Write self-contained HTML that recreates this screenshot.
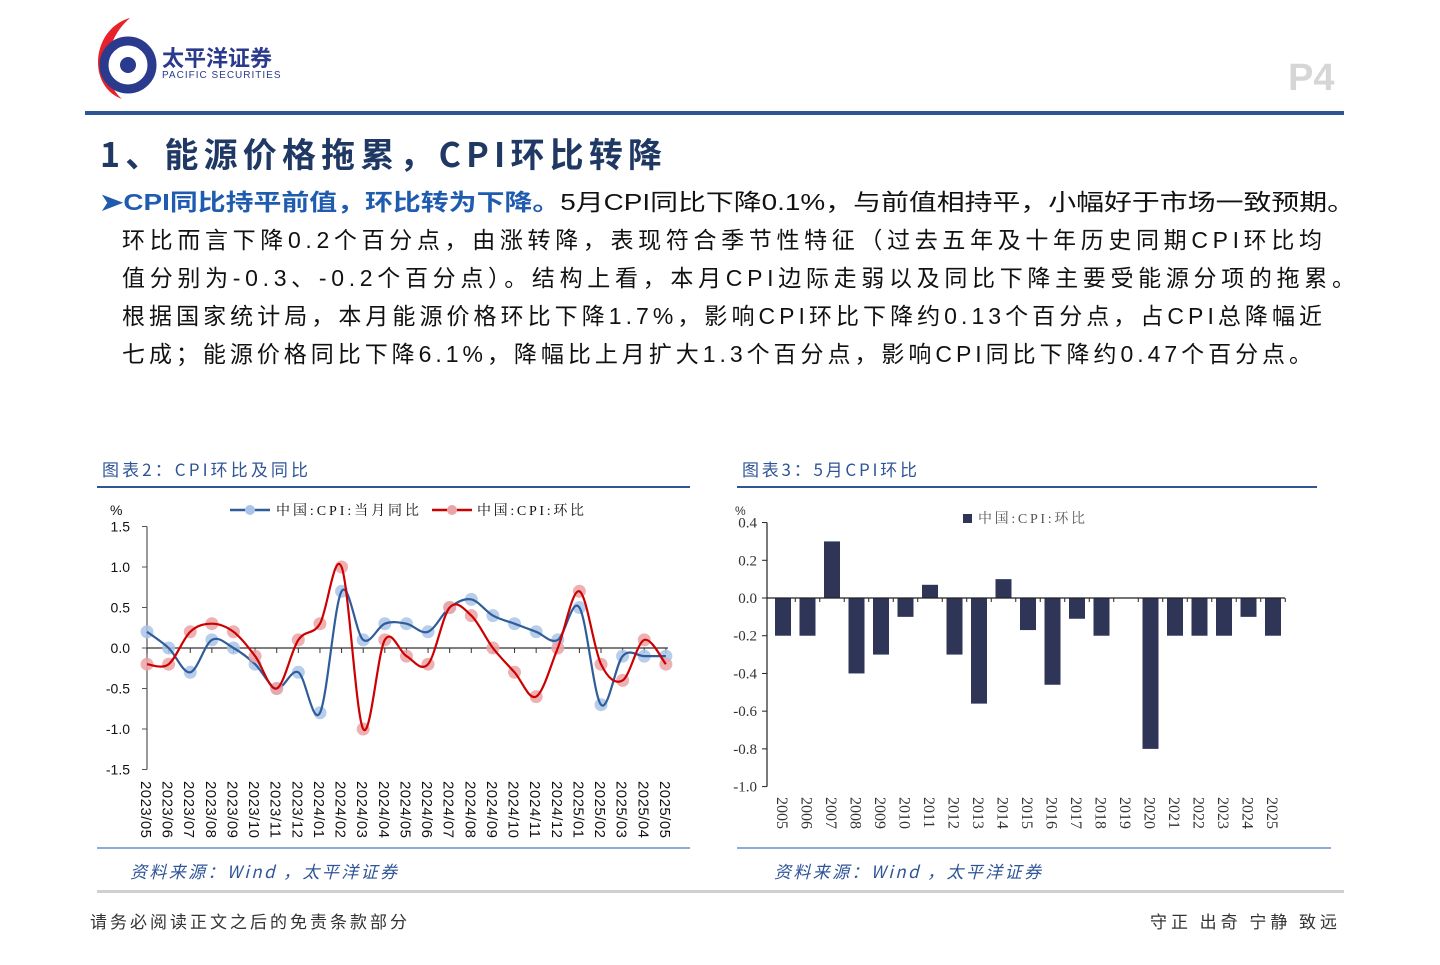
<!DOCTYPE html>
<html><head><meta charset="utf-8"><style>
html,body{margin:0;padding:0;background:#fff;width:1440px;height:965px;overflow:hidden}
svg{display:block}
text{font-family:"Liberation Sans","Noto Sans CJK SC",sans-serif}
.cjk{font-family:"Noto Sans CJK SC","WenQuanYi Zen Hei",sans-serif}
.ser{font-family:"Liberation Serif","Noto Serif CJK SC",serif}
</style></head><body>
<svg id="page" width="1440" height="965" viewBox="0 0 1440 965">
<g>
 <path d="M130 18 C92 28 86 86 122 99 C100 80 104 40 130 18Z" fill="#e8222a"/>
 <circle cx="128" cy="65" r="24" fill="none" stroke="#2a3a8c" stroke-width="9"/>
 <circle cx="128" cy="65" r="8" fill="#2a3a8c"/>
 <text x="162" y="66" font-size="22" font-weight="bold" fill="#2a3a8c" class="cjk">太平洋证券</text>
 <text x="162" y="78" font-size="10" fill="#2a3a8c" letter-spacing="1">PACIFIC SECURITIES</text>
</g>
<text x="1288" y="90" font-size="38" font-weight="bold" fill="#d6d6d6">P4</text>
<rect x="85" y="111" width="1259" height="4" fill="#2f5597"/>
<text x="100" y="167" font-size="34" font-weight="bold" fill="#1f3864" class="cjk" textLength="562">1、能源价格拖累，CPI环比转降</text>
<g class="cjk" font-size="23">
 <text x="100" y="210" textLength="1255" lengthAdjust="spacingAndGlyphs"><tspan fill="#1f5cb0" font-weight="bold">➤CPI同比持平前值，环比转为下降。</tspan><tspan fill="#111">5月CPI同比下降0.1%，与前值相持平，小幅好于市场一致预期。</tspan></text>
 <text x="122" y="248" fill="#111" textLength="1200">环比而言下降0.2个百分点，由涨转降，表现符合季节性特征（过去五年及十年历史同期CPI环比均</text>
 <text x="122" y="286" fill="#111" textLength="1233">值分别为-0.3、-0.2个百分点）。结构上看，本月CPI边际走弱以及同比下降主要受能源分项的拖累。</text>
 <text x="122" y="324" fill="#111" textLength="1200">根据国家统计局，本月能源价格环比下降1.7%，影响CPI环比下降约0.13个百分点，占CPI总降幅近</text>
 <text x="122" y="362" fill="#111" textLength="1190">七成；能源价格同比下降6.1%，降幅比上月扩大1.3个百分点，影响CPI同比下降约0.47个百分点。</text>
</g>
<text x="102" y="476" font-size="17" fill="#2f5597" class="cjk" textLength="206">图表2：CPI环比及同比</text>
<text x="742" y="476" font-size="17" fill="#2f5597" class="cjk" textLength="175">图表3：5月CPI环比</text>
<rect x="97" y="486" width="593" height="2" fill="#2f5597"/>
<rect x="737" y="486" width="580" height="2" fill="#2f5597"/>
<rect x="97" y="847" width="593" height="2" fill="#8eaadb"/>
<rect x="737" y="847" width="594" height="2" fill="#8eaadb"/>
<text x="130" y="878" font-size="17" font-style="italic" fill="#2f5597" class="cjk" textLength="267">资料来源：Wind ，太平洋证券</text>
<text x="774" y="878" font-size="17" font-style="italic" fill="#2f5597" class="cjk" textLength="267">资料来源：Wind ，太平洋证券</text>
<rect x="97" y="890" width="1247" height="3" fill="#d0d0d0"/>
<text x="90" y="928" font-size="17" fill="#333" class="cjk" textLength="317">请务必阅读正文之后的免责条款部分</text>
<text x="1150" y="928" font-size="17" fill="#333" class="cjk" textLength="187">守正 出奇 宁静 致远</text>
<g id="c2"></g>
<g id="c3"></g>
</svg>
<script>
const months=["2023/05","2023/06","2023/07","2023/08","2023/09","2023/10","2023/11","2023/12","2024/01","2024/02","2024/03","2024/04","2024/05","2024/06","2024/07","2024/08","2024/09","2024/10","2024/11","2024/12","2025/01","2025/02","2025/03","2025/04","2025/05"];
const yoy=[0.2,0,-0.3,0.1,0,-0.2,-0.5,-0.3,-0.8,0.7,0.1,0.3,0.3,0.2,0.5,0.6,0.4,0.3,0.2,0.1,0.5,-0.7,-0.1,-0.1,-0.1];
const mom=[-0.2,-0.2,0.2,0.3,0.2,-0.1,-0.5,0.1,0.3,1.0,-1.0,0.1,-0.1,-0.2,0.5,0.4,0,-0.3,-0.6,0,0.7,-0.2,-0.4,0.1,-0.2];
const leftTicks=[1.5,1.0,0.5,0.0,-0.5,-1.0,-1.5];
const years=["2005","2006","2007","2008","2009","2010","2011","2012","2013","2014","2015","2016","2017","2018","2019","2020","2021","2022","2023","2024","2025"];
const mayMom=[-0.2,-0.2,0.3,-0.4,-0.3,-0.1,0.07,-0.3,-0.56,0.1,-0.17,-0.46,-0.11,-0.2,0,-0.8,-0.2,-0.2,-0.2,-0.1,-0.2];
const rightTicks=[0.4,0.2,0.0,-0.2,-0.4,-0.6,-0.8,-1.0];
const NS="http://www.w3.org/2000/svg";
function mk(p,t,a,txt){const e=document.createElementNS(NS,t);for(const k in a)e.setAttribute(k,a[k]);if(txt!==undefined)e.textContent=txt;p.appendChild(e);return e;}
(function(){
const g=document.getElementById('c2');
const x0=147,step=21.62,yz=648,ys=81;
const X=i=>x0+i*step, Y=v=>yz-v*ys;
let e=mk(g,'line',{x1:x0,y1:Y(1.5),x2:x0,y2:Y(-1.5),stroke:'#555','stroke-width':1.2});

e=mk(g,'line',{x1:x0,y1:yz,x2:X(months.length-1)+2,y2:yz,stroke:'#333','stroke-width':1.2});

leftTicks.forEach(t=>{mk(g,'line',{x1:x0-5,y1:Y(t),x2:x0,y2:Y(t),stroke:'#555'});
 const l=mk(g,'text',{x:x0-17,y:Y(t)+5,'font-size':14,'text-anchor':'end',fill:'#111'},t.toFixed(1));
 });
mk(g,'text',{x:110,y:515,'font-size':14,fill:'#111'},'%');
months.forEach((m,i)=>{mk(g,'line',{x1:X(i),y1:yz,x2:X(i),y2:yz+5,stroke:'#333'});
 const l=mk(g,'text',{transform:`translate(${X(i)-6},781) rotate(90)`,'font-size':15,fill:'#111',textLength:57},m);
 });
function path(arr){const p=arr.map((v,i)=>[X(i),Y(v)]);let d=`M${p[0][0]},${p[0][1]}`;
 for(let i=0;i<p.length-1;i++){const a=p[i-1]||p[i],b=p[i],c=p[i+1],n=p[i+2]||c;
  d+=` C${b[0]+(c[0]-a[0])/6},${b[1]+(c[1]-a[1])/6} ${c[0]-(n[0]-b[0])/6},${c[1]-(n[1]-b[1])/6} ${c[0]},${c[1]}`;}return d;}
[[yoy,'#2f5d9a','#a9c4e8','yoy'],[mom,'#cc0000','#eaa3a6','mom']].forEach(([arr,lc,dc,nm])=>{
 arr.forEach((v,i)=>{const c=mk(g,'circle',{cx:X(i),cy:Y(v),r:6.5,fill:dc,opacity:0.85});
  });
 const l=mk(g,'path',{d:path(arr),fill:'none',stroke:lc,'stroke-width':2.2});
 
});
const lg=mk(g,'g',{});

mk(lg,'line',{x1:230,y1:510,x2:270,y2:510,stroke:'#2f5d9a','stroke-width':2.5});
mk(lg,'circle',{cx:250,cy:510,r:5,fill:'#a9c4e8'});
mk(lg,'text',{x:276,y:515,'font-size':14,fill:'#111',class:'ser',textLength:143},'中国:CPI:当月同比');
mk(lg,'line',{x1:432,y1:510,x2:472,y2:510,stroke:'#cc0000','stroke-width':2.5});
mk(lg,'circle',{cx:452,cy:510,r:5,fill:'#eaa3a6'});
mk(lg,'text',{x:477,y:515,'font-size':14,fill:'#111',class:'ser',textLength:107},'中国:CPI:环比');
})();
(function(){
const g=document.getElementById('c3');
const x0=767,off=16,step=24.5,yz=598,ys=188.6;
const X=i=>x0+off+step*i, Y=v=>yz-v*ys;
mayMom.forEach((v,i)=>{const r=mk(g,'rect',{x:X(i)-8,y:Math.min(Y(v),yz),width:16,height:Math.abs(Y(v)-yz),fill:'#2e3557'});
 });
let e=mk(g,'line',{x1:x0,y1:Y(0.4),x2:x0,y2:Y(-1.0),stroke:'#222','stroke-width':1.2});

e=mk(g,'line',{x1:x0,y1:yz,x2:X(years.length-1)+12,y2:yz,stroke:'#222','stroke-width':1.2});

rightTicks.forEach(t=>{mk(g,'line',{x1:x0-5,y1:Y(t),x2:x0,y2:Y(t),stroke:'#222'});
 const l=mk(g,'text',{x:x0-10,y:Y(t)+5,'font-size':15,'text-anchor':'end',fill:'#333',class:'ser'},t.toFixed(1));
 });
mk(g,'text',{x:735,y:515,'font-size':12,fill:'#333'},'%');
years.forEach((y,i)=>{mk(g,'line',{x1:X(i)+step/2,y1:yz,x2:X(i)+step/2,y2:yz+4,stroke:'#222'});
 const l=mk(g,'text',{transform:`translate(${X(i)-6},797) rotate(90)`,'font-size':16,fill:'#333',class:'ser'},y);
 });
const lg=mk(g,'g',{});

mk(lg,'rect',{x:963,y:514,width:9,height:9,fill:'#2e3557'});
mk(lg,'text',{x:978,y:523,'font-size':14,fill:'#555',class:'ser',textLength:107},'中国:CPI:环比');
})();
</script>
</body></html>
